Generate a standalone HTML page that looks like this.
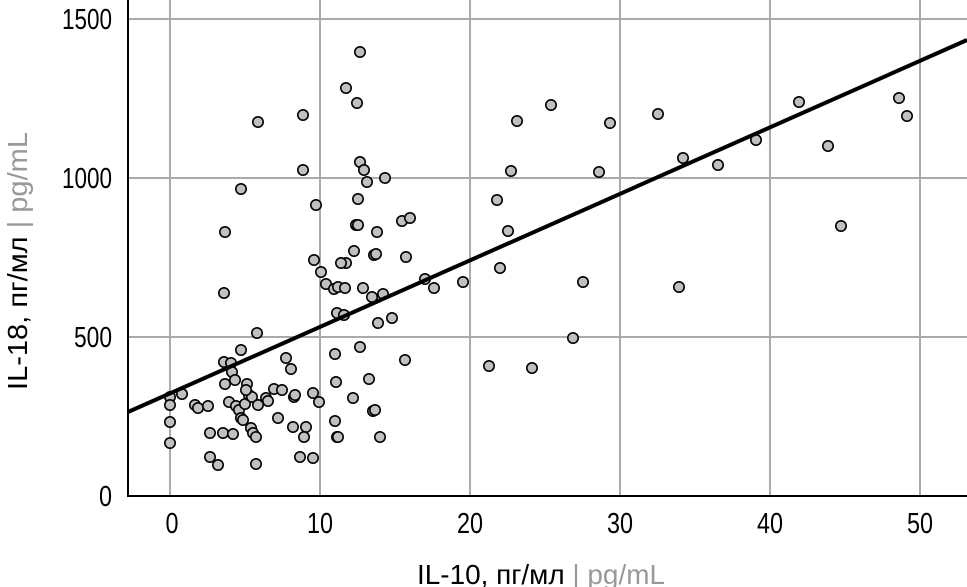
<!DOCTYPE html>
<html><head><meta charset="utf-8"><style>body{margin:0;background:#fff}svg{display:block}text{font-family:"Liberation Sans",sans-serif}</style></head><body>
<svg width="967" height="587" viewBox="0 0 967 587" xmlns="http://www.w3.org/2000/svg">
<g stroke="#aaa" stroke-width="2">
<line x1="170" y1="0" x2="170" y2="496"/><line x1="320" y1="0" x2="320" y2="496"/><line x1="470" y1="0" x2="470" y2="496"/><line x1="620" y1="0" x2="620" y2="496"/><line x1="770" y1="0" x2="770" y2="496"/><line x1="920" y1="0" x2="920" y2="496"/>
<line x1="128" y1="19" x2="967" y2="19"/><line x1="128" y1="178" x2="967" y2="178"/><line x1="128" y1="337" x2="967" y2="337"/>
</g>
<g fill="#c0c0c0" stroke="#000" stroke-width="1.6">
<circle cx="170" cy="397" r="5.2"/><circle cx="170" cy="405" r="5.2"/><circle cx="170" cy="422" r="5.2"/><circle cx="170" cy="443" r="5.2"/><circle cx="182" cy="394" r="5.2"/><circle cx="195" cy="405" r="5.2"/><circle cx="198" cy="408" r="5.2"/><circle cx="208" cy="406" r="5.2"/><circle cx="210" cy="433" r="5.2"/><circle cx="210" cy="457" r="5.2"/><circle cx="218" cy="465" r="5.2"/><circle cx="223" cy="433" r="5.2"/><circle cx="224" cy="362" r="5.2"/><circle cx="225" cy="384" r="5.2"/><circle cx="229" cy="402" r="5.2"/><circle cx="231" cy="363" r="5.2"/><circle cx="232" cy="372" r="5.2"/><circle cx="233" cy="434" r="5.2"/><circle cx="235" cy="380" r="5.2"/><circle cx="236" cy="406" r="5.2"/><circle cx="239" cy="410" r="5.2"/><circle cx="241" cy="418" r="5.2"/><circle cx="241" cy="350" r="5.2"/><circle cx="243" cy="420" r="5.2"/><circle cx="245" cy="404" r="5.2"/><circle cx="247" cy="384" r="5.2"/><circle cx="249" cy="395" r="5.2"/><circle cx="251" cy="428" r="5.2"/><circle cx="253" cy="433" r="5.2"/><circle cx="256" cy="437" r="5.2"/><circle cx="256" cy="464" r="5.2"/><circle cx="252" cy="397" r="5.2"/><circle cx="246" cy="390" r="5.2"/>
<circle cx="225" cy="232" r="5.2"/><circle cx="224" cy="293" r="5.2"/><circle cx="258" cy="122" r="5.2"/><circle cx="257" cy="333" r="5.2"/><circle cx="241" cy="189" r="5.2"/><circle cx="303" cy="115" r="5.2"/><circle cx="303" cy="170" r="5.2"/><circle cx="316" cy="205" r="5.2"/><circle cx="314" cy="260" r="5.2"/><circle cx="321" cy="272" r="5.2"/><circle cx="326" cy="284" r="5.2"/><circle cx="334" cy="289" r="5.2"/><circle cx="337" cy="313" r="5.2"/><circle cx="338" cy="287" r="5.2"/><circle cx="345" cy="288" r="5.2"/><circle cx="346" cy="263" r="5.2"/><circle cx="341" cy="263" r="5.2"/><circle cx="354" cy="251" r="5.2"/><circle cx="356" cy="225" r="5.2"/><circle cx="358" cy="199" r="5.2"/><circle cx="360" cy="162" r="5.2"/><circle cx="364" cy="170" r="5.2"/><circle cx="367" cy="182" r="5.2"/><circle cx="357" cy="103" r="5.2"/><circle cx="346" cy="88" r="5.2"/><circle cx="360" cy="52" r="5.2"/><circle cx="358" cy="225" r="5.2"/><circle cx="363" cy="288" r="5.2"/><circle cx="360" cy="347" r="5.2"/><circle cx="385" cy="178" r="5.2"/><circle cx="377" cy="232" r="5.2"/><circle cx="374" cy="255" r="5.2"/><circle cx="376" cy="254" r="5.2"/><circle cx="383" cy="294" r="5.2"/><circle cx="392" cy="318" r="5.2"/><circle cx="378" cy="323" r="5.2"/><circle cx="402" cy="221" r="5.2"/><circle cx="410" cy="218" r="5.2"/><circle cx="406" cy="257" r="5.2"/><circle cx="425" cy="279" r="5.2"/><circle cx="434" cy="288" r="5.2"/><circle cx="463" cy="282" r="5.2"/><circle cx="497" cy="200" r="5.2"/><circle cx="500" cy="268" r="5.2"/><circle cx="508" cy="231" r="5.2"/><circle cx="511" cy="171" r="5.2"/><circle cx="517" cy="121" r="5.2"/><circle cx="551" cy="105" r="5.2"/><circle cx="489" cy="366" r="5.2"/><circle cx="532" cy="368" r="5.2"/><circle cx="573" cy="338" r="5.2"/><circle cx="583" cy="282" r="5.2"/><circle cx="599" cy="172" r="5.2"/><circle cx="610" cy="123" r="5.2"/><circle cx="658" cy="114" r="5.2"/><circle cx="679" cy="287" r="5.2"/><circle cx="683" cy="158" r="5.2"/><circle cx="718" cy="165" r="5.2"/><circle cx="756" cy="140" r="5.2"/><circle cx="799" cy="102" r="5.2"/><circle cx="828" cy="146" r="5.2"/><circle cx="841" cy="226" r="5.2"/><circle cx="899" cy="98" r="5.2"/><circle cx="907" cy="116" r="5.2"/>
<circle cx="306" cy="427" r="5.2"/><circle cx="304" cy="437" r="5.2"/><circle cx="300" cy="457" r="5.2"/><circle cx="293" cy="427" r="5.2"/><circle cx="313" cy="393" r="5.2"/><circle cx="319" cy="402" r="5.2"/><circle cx="294" cy="397" r="5.2"/><circle cx="278" cy="418" r="5.2"/><circle cx="274" cy="389" r="5.2"/><circle cx="286" cy="358" r="5.2"/><circle cx="291" cy="369" r="5.2"/><circle cx="295" cy="395" r="5.2"/><circle cx="266" cy="398" r="5.2"/><circle cx="268" cy="401" r="5.2"/><circle cx="282" cy="390" r="5.2"/><circle cx="258" cy="405" r="5.2"/><circle cx="313" cy="458" r="5.2"/><circle cx="336" cy="382" r="5.2"/><circle cx="335" cy="354" r="5.2"/><circle cx="353" cy="398" r="5.2"/><circle cx="369" cy="379" r="5.2"/><circle cx="373" cy="411" r="5.2"/><circle cx="375" cy="410" r="5.2"/><circle cx="380" cy="437" r="5.2"/><circle cx="335" cy="421" r="5.2"/><circle cx="337" cy="437" r="5.2"/><circle cx="338" cy="437" r="5.2"/><circle cx="344" cy="315" r="5.2"/><circle cx="405" cy="360" r="5.2"/><circle cx="372" cy="297" r="5.2"/>
</g>
<line x1="128" y1="412" x2="967" y2="40" stroke="#000" stroke-width="4"/>
<polyline points="128,0 128,496 967,496" fill="none" stroke="#000" stroke-width="2"/>
<g font-size="29" text-anchor="end" fill="#000">
<text x="112" y="29" textLength="50" lengthAdjust="spacingAndGlyphs">1500</text><text x="112" y="188" textLength="50" lengthAdjust="spacingAndGlyphs">1000</text><text x="112" y="347" textLength="38" lengthAdjust="spacingAndGlyphs">500</text><text x="112" y="506" textLength="13" lengthAdjust="spacingAndGlyphs">0</text>
</g>
<g font-size="29" text-anchor="middle" fill="#000">
<text x="172" y="533" textLength="13" lengthAdjust="spacingAndGlyphs">0</text><text x="320" y="533" textLength="26" lengthAdjust="spacingAndGlyphs">10</text><text x="470" y="533" textLength="26" lengthAdjust="spacingAndGlyphs">20</text><text x="620" y="533" textLength="26" lengthAdjust="spacingAndGlyphs">30</text><text x="770" y="533" textLength="26" lengthAdjust="spacingAndGlyphs">40</text><text x="920" y="533" textLength="26" lengthAdjust="spacingAndGlyphs">50</text>
</g>
<text x="541" y="584" font-size="28" text-anchor="middle" textLength="248" lengthAdjust="spacingAndGlyphs">IL-10, пг/мл <tspan fill="#999">| pg/mL</tspan></text>
<text transform="translate(27,261) rotate(-90)" font-size="28" text-anchor="middle" textLength="258" lengthAdjust="spacingAndGlyphs">IL-18, пг/мл <tspan fill="#999">| pg/mL</tspan></text>
</svg>
</body></html>
